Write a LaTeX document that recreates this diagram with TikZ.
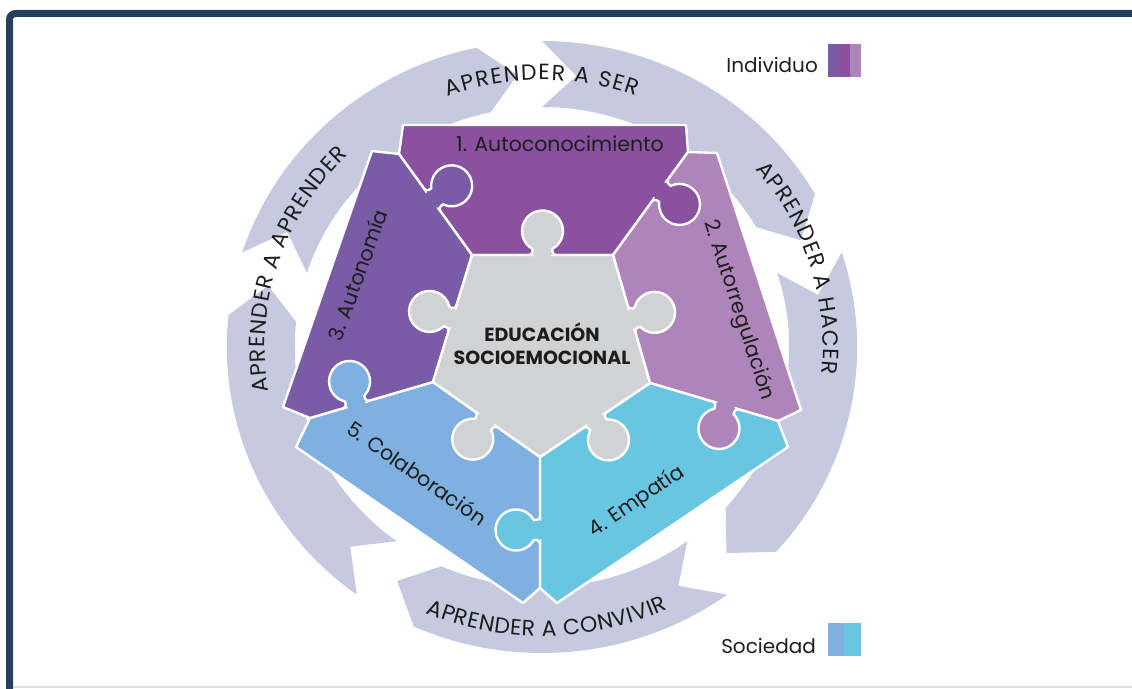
\documentclass[tikz,border=0pt]{standalone}
\usepackage{fontspec}
\setmainfont{Poppins}
\usetikzlibrary{decorations.text}

\definecolor{navy}{HTML}{243F5F}
\definecolor{ringgray}{HTML}{C6CAE0}
\definecolor{eduGray}{HTML}{D1D2D4}
\definecolor{autoconColor}{HTML}{8A51A0}
\definecolor{autorregColor}{HTML}{AE84BB}
\definecolor{autonomiaColor}{HTML}{7A5BA6}
\definecolor{empatiaColor}{HTML}{69C6E3}
\definecolor{colabColor}{HTML}{7FB0DF}
\definecolor{textdark}{HTML}{1D1D1B}

\newcommand{\ringfont}{\fontsize{22}{26}\selectfont\color{textdark}}

% puzzle knob: base point, rotation, colour
\newcommand{\knob}[3]{%
  \begin{scope}[shift={(#1)},rotate=#2]
    \filldraw[fill=#3,draw=white,line width=2.4pt] (-13.5,0) arc[start angle=270,end angle=360,radius=3.5]
      -- (-10,6.1) arc[start angle=240.8,end angle=-60.8,radius=20.5]
      -- (10,3.5) arc[start angle=180,end angle=270,radius=3.5];
    \fill[#3] (-8.8,-3) rectangle (8.8,3);
  \end{scope}}

\tikzset{
  piece/.style={draw=white, line width=2.4pt, line join=round},
  lbl/.style={inner sep=0pt, text=textdark, font=\fontsize{20.5}{24}\selectfont},
  legend/.style={inner sep=0pt, text=textdark, font=\fontsize{20}{24}\selectfont},
  ringtext/.style={decorate, decoration={text along path, text align={fit to path}, text={|\ringfont|#1}}}
}

\begin{document}
\begin{tikzpicture}[x=1pt,y=1pt]
\useasboundingbox (0,0) rectangle (1132,688);
\clip (0,0) rectangle (1132,688);

%Frame
\draw[gray!25, line width=1.2pt] (13,1) -- (1132,1);
\draw[navy, line width=7pt, rounded corners=6pt] (9.5,-10) -- (9.5,674.5) -- (1145,674.5);

%Ring
\begin{scope}[shift={(542,341)}, xscale=1.03]
\foreach \t in {95,23,-49,-121,-193}{
  \pgfmathsetmacro{\s}{\t+67}
  \fill[ringgray] (\s:306) arc[start angle=\s, end angle=\t+7, radius=306] -- (\t:273)
    -- ({\t+7}:240) arc[start angle=\t+7, end angle=\s, radius=240] -- ({\s-7}:273) -- cycle;
}
\path[ringtext={APRENDER A SER}] (110:267) arc[start angle=110, end angle=70, radius=267];
\path[ringtext={APRENDER A HACER}] (40.5:273) arc[start angle=40.5, end angle=-5.7, radius=273];
\path[ringtext={APRENDER A CONVIVIR}] (-113:289) arc[start angle=-113, end angle=-65, radius=289];
\path[ringtext={APRENDER A APRENDER}] (189.5:269) arc[start angle=189.5, end angle=134.5, radius=269];
\end{scope}

%Points
\coordinate (g1) at (472,433);
\coordinate (g2) at (613,433);
\coordinate (g3) at (650,305);
\coordinate (g4) at (540,231);
\coordinate (g5) at (433,306);

\coordinate (e13) at (399,534);
\coordinate (e12) at (688,536);
\coordinate (e24) at (778,267);
\coordinate (e45) at (540,100);
\coordinate (e53) at (310,270);

\coordinate (p1a) at (403,563);
\coordinate (p1b) at (686,563);
\coordinate (p2a) at (717,535);
\coordinate (p2b) at (801,278);
\coordinate (p4a) at (788,241);
\coordinate (p4b) at (557,85);
\coordinate (p5a) at (523,85);
\coordinate (p5b) at (296,241);
\coordinate (p3b) at (283,281);
\coordinate (p3a) at (372,537);

%Pieces
\filldraw[piece, fill=autoconColor] (p1a) -- (p1b) -- (e12) -- (g2) -- (g1) -- (e13) -- cycle;
\filldraw[piece, fill=autorregColor] (e12) -- (p2a) -- (p2b) -- (e24) -- (g3) -- (g2) -- cycle;
\filldraw[piece, fill=empatiaColor] (e24) -- (p4a) -- (p4b) -- (e45) -- (g4) -- (g3) -- cycle;
\filldraw[piece, fill=colabColor] (e45) -- (p5a) -- (p5b) -- (e53) -- (g5) -- (g4) -- cycle;
\filldraw[piece, fill=autonomiaColor] (e53) -- (p3b) -- (p3a) -- (e13) -- (g1) -- (g5) -- cycle;
\filldraw[piece, fill=eduGray] (g1) -- (g2) -- (g3) -- (g4) -- (g5) -- cycle;

%Knobs
\knob{542.5,433}{0}{eduGray}
\knob{631.5,369}{-73.9}{eduGray}
\knob{595,268}{-146.1}{eduGray}
\knob{486.5,268.5}{145}{eduGray}
\knob{452.5,369.5}{72.9}{eduGray}

\knob{432.2,488.1}{-54.1}{autonomiaColor}
\knob{660.1,497.7}{-126.1}{autoconColor}
\knob{725.8,282.5}{163.4}{autorregColor}
\knob{540,158}{90}{empatiaColor}
\knob{356.3,283.5}{16.3}{colabColor}

%Labels
\node[lbl] (autocon) at (560,544) {1. Autoconocimiento};
\node[lbl, rotate=-71.9] (autorreg) at (738.5,378) {2. Autorregulación};
\node[lbl, rotate=70] (autonomia) at (357.5,413) {3. Autonomía};
\node[lbl, rotate=34.5] (empatia) at (637,186) {4. Empatía};
\node[lbl, rotate=-35] (colab) at (417,215) {5. Colaboración};

\node[inner sep=0pt, text=textdark, align=center, font=\bfseries\fontsize{19}{23}\selectfont] (edu) at (542,344) {EDUCACIÓN\\SOCIOEMOCIONAL};

%Legend
\node[legend, anchor=base east] (individuo) at (818,615) {Individuo};
\fill[autonomiaColor] (828,611) rectangle (839,644);
\fill[autoconColor] (839,611) rectangle (850,644);
\fill[autorregColor] (850,611) rectangle (861,644);

\node[legend, anchor=base east] (sociedad) at (816,35) {Sociedad};
\fill[colabColor] (828,32) rectangle (844,65);
\fill[empatiaColor] (844,32) rectangle (861,65);
\end{tikzpicture}
\end{document}
